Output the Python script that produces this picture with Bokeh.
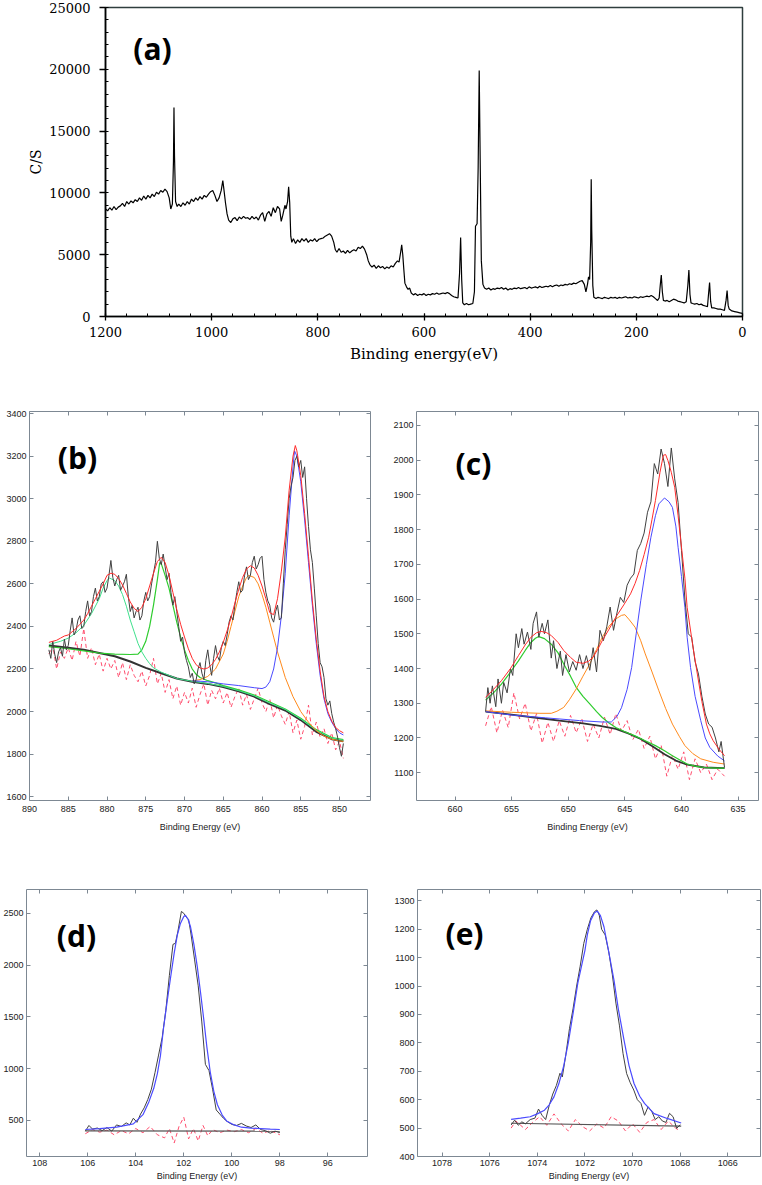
from bokeh.plotting import figure
from bokeh.models import Range1d, FixedTicker, SingleIntervalTicker, LinearAxis, Label
from bokeh.layouts import column, row
from bokeh.embed import file_html
from bokeh.resources import INLINE
import math

# ---------------- DATA ----------------
# (a) survey spectrum: (binding energy eV, counts/s)
A_SURVEY = [(1200,8700),(1196,8550),(1192,8800),(1188,8600),(1184,8900),(1180,8650),(1176,8850),(1172,8950),(1168,9150),(1164,8900),(1160,9300),(1156,9100),(1152,9350),(1148,9200),(1144,9450),(1140,9300),(1136,9600),(1132,9400),(1128,9750),(1124,9500),(1120,9800),(1116,9600),(1112,9900),(1108,9700),(1104,10050),(1100,9900),(1096,10200),(1092,10050),(1088,10300),(1084,10100),(1080,9600),(1077,8700),(1074,9100),(1072,12500),(1071,16900),(1070,13000),(1068,9300),(1065,8900),(1062,9100),(1058,8900),(1054,9200),(1050,9000),(1046,9300),(1042,9100),(1038,9500),(1034,9300),(1030,9600),(1026,9400),(1022,9700),(1018,9500),(1014,9800),(1010,9650),(1006,9900),(1002,10100),(998,10200),(994,9800),(990,9300),(986,9600),(982,10200),(979,11000),(977,10300),(974,9200),(971,8300),(968,7800),(964,7600),(960,7900),(956,8000),(952,7750),(948,8050),(944,7900),(940,8100),(936,7950),(932,8000),(928,7850),(924,8100),(920,7900),(916,8050),(912,7800),(908,8200),(904,8400),(900,7700),(896,8300),(892,8500),(888,8100),(884,8800),(880,8400),(876,8900),(872,8700),(869,7700),(866,8200),(862,9000),(860,8700),(857,9300),(855,10500),(853,9200),(851,6500),(849,6000),(846,6300),(842,5900),(838,6200),(834,6000),(830,6300),(826,6100),(822,6300),(818,6000),(814,6200),(810,6100),(806,6300),(802,6050),(798,6250),(794,6300),(790,6350),(786,6500),(782,6600),(778,6700),(774,6500),(770,6000),(767,5400),(764,5200),(760,5500),(756,5200),(752,5300),(748,5100),(744,5350),(740,5150),(736,5300),(732,5400),(728,5300),(724,5600),(720,5500),(716,5700),(712,5450),(708,5000),(705,4500),(702,4200),(698,4000),(694,4150),(690,3900),(686,4100),(682,3950),(678,4050),(674,3850),(670,4000),(666,3900),(662,4100),(658,4000),(654,4300),(650,4500),(647,4400),(644,5200),(642,5800),(640,5000),(638,3800),(636,2700),(633,2400),(630,2200),(627,2300),(624,1900),(620,1750),(616,1850),(612,1700),(608,1800),(604,1750),(600,1850),(596,1700),(592,1800),(588,1750),(584,1850),(580,1800),(576,1900),(572,1800),(568,1850),(564,1900),(560,1850),(556,1950),(552,1850),(548,1700),(544,1600),(540,1550),(536,1500),(533,3500),(531,6400),(529,3000),(527,1100),(524,950),(520,1050),(516,950),(512,1000),(508,1050),(505,2000),(503,7300),(500,7500),(498,12000),(496,19900),(494,12000),(492,4500),(489,2600),(486,2300),(482,2200),(478,2300),(474,2150),(470,2250),(466,2200),(462,2300),(458,2250),(454,2350),(450,2200),(446,2300),(442,2150),(438,2250),(434,2200),(430,2300),(426,2250),(422,2350),(418,2250),(414,2300),(410,2350),(406,2250),(402,2400),(398,2300),(394,2350),(390,2400),(386,2300),(382,2450),(378,2350),(374,2400),(370,2450),(366,2400),(362,2500),(358,2400),(354,2500),(350,2550),(346,2450),(342,2550),(338,2500),(334,2600),(330,2550),(326,2650),(322,2600),(318,2700),(314,2650),(310,2750),(306,2850),(302,2900),(298,2600),(295,2000),(292,2600),(290,3200),(288,3000),(286,6000),(285,11100),(284,7000),(282,2500),(280,1550),(276,1450),(272,1550),(268,1500),(264,1450),(260,1550),(256,1500),(252,1450),(248,1550),(244,1500),(240,1550),(236,1450),(232,1550),(228,1500),(224,1550),(220,1600),(216,1500),(212,1550),(208,1500),(204,1600),(200,1550),(196,1500),(192,1600),(188,1550),(184,1600),(180,1650),(176,1600),(172,1700),(168,1600),(164,1450),(160,1300),(157,1500),(155,2500),(153,3350),(151,2000),(149,1300),(146,1250),(142,1300),(138,1200),(134,1300),(130,1400),(126,1350),(122,1250),(118,1200),(114,1150),(110,1100),(106,1200),(103,2500),(101,3750),(99,1800),(97,1100),(94,1050),(90,1000),(86,1050),(82,950),(78,1000),(74,900),(70,850),(66,800),(64,1800),(62,2750),(60,1200),(58,700),(54,700),(50,650),(46,600),(42,600),(38,550),(34,500),(31,1300),(29,2100),(27,900),(25,600),(20,450),(15,400),(10,350),(5,300),(0,250)]
A_XTICK_STEP = 200
A_YTICK_STEP = 5000

# (b) Ni 2p region
B_RAW = [(887.5,2290),(887.25,2250),(887.0,2330),(886.75,2270),(886.5,2230),(886.25,2280),(886.0,2300),(885.75,2260),(885.5,2340),(885.25,2290),(885.0,2310),(884.75,2380),(884.5,2440),(884.25,2360),(884.0,2380),(883.75,2430),(883.5,2450),(883.25,2390),(883.0,2400),(882.75,2470),(882.5,2520),(882.25,2450),(882.0,2470),(881.75,2540),(881.5,2580),(881.25,2520),(881.0,2540),(880.75,2600),(880.5,2610),(880.25,2560),(880.0,2580),(879.75,2640),(879.5,2710),(879.25,2630),(879.0,2590),(878.75,2620),(878.5,2640),(878.25,2570),(878.0,2590),(877.75,2610),(877.5,2645),(877.25,2540),(877.0,2470),(876.75,2500),(876.5,2440),(876.25,2470),(876.0,2490),(875.75,2430),(875.5,2450),(875.25,2520),(875.0,2560),(874.75,2520),(874.5,2540),(874.25,2600),(874.0,2650),(873.75,2700),(873.5,2800),(873.25,2720),(873.0,2690),(872.75,2740),(872.5,2680),(872.25,2620),(872.0,2650),(871.75,2560),(871.5,2500),(871.25,2540),(871.0,2470),(870.75,2400),(870.5,2330),(870.25,2350),(870.0,2280),(869.75,2240),(869.5,2210),(869.25,2160),(869.0,2180),(868.75,2130),(868.5,2150),(868.25,2200),(868.0,2230),(867.75,2180),(867.5,2150),(867.25,2240),(867.0,2290),(866.75,2220),(866.5,2170),(866.25,2250),(866.0,2310),(865.75,2260),(865.5,2240),(865.25,2300),(865.0,2330),(864.75,2310),(864.5,2360),(864.25,2420),(864.0,2450),(863.75,2430),(863.5,2500),(863.25,2560),(863.0,2610),(862.75,2560),(862.5,2570),(862.25,2640),(862.0,2680),(861.75,2620),(861.5,2640),(861.25,2700),(861.0,2730),(860.75,2670),(860.5,2690),(860.25,2720),(860.0,2730),(859.75,2620),(859.5,2560),(859.25,2520),(859.0,2500),(858.75,2440),(858.5,2420),(858.25,2470),(858.0,2500),(857.75,2430),(857.5,2440),(857.25,2600),(857.0,2760),(856.75,2880),(856.5,3000),(856.25,3060),(856.0,3100),(855.75,3180),(855.5,3200),(855.25,3150),(855.0,3180),(854.75,3100),(854.5,3150),(854.25,3000),(854.0,2870),(853.75,2760),(853.5,2700),(853.25,2580),(853.0,2450),(852.75,2320),(852.5,2230),(852.25,2210),(852.0,2160),(851.75,2060),(851.5,2030),(851.25,2050),(851.0,1990),(850.75,1950),(850.5,1920),(850.25,1880),(850.0,1830),(849.75,1790),(849.5,1850)]
B_RESID = [(887.5,2270),(887.0,2310),(886.5,2200),(886.0,2280),(885.5,2250),(885.0,2300),(884.5,2240),(884.0,2330),(883.5,2260),(883.0,2390),(882.5,2250),(882.0,2300),(881.5,2220),(881.0,2270),(880.5,2190),(880.0,2250),(879.5,2200),(879.0,2240),(878.5,2160),(878.0,2230),(877.5,2150),(877.0,2220),(876.5,2170),(876.0,2140),(875.5,2190),(875.0,2120),(874.5,2170),(874.0,2250),(873.5,2130),(873.0,2180),(872.5,2090),(872.0,2150),(871.5,2060),(871.0,2120),(870.5,2030),(870.0,2090),(869.5,2040),(869.0,2110),(868.5,2020),(868.0,2080),(867.5,2130),(867.0,2030),(866.5,2100),(866.0,2060),(865.5,2110),(865.0,2040),(864.5,2090),(864.0,2020),(863.5,2070),(863.0,2110),(862.5,2030),(862.0,2080),(861.5,2010),(861.0,2060),(860.5,2110),(860.0,2040),(859.5,2000),(859.0,2060),(858.5,1970),(858.0,2030),(857.5,1980),(857.0,1940),(856.5,2000),(856.0,1900),(855.5,1960),(855.0,1870),(854.5,1930),(854.0,2030),(853.5,1890),(853.0,1950),(852.5,1880),(852.0,1920),(851.5,1850),(851.0,1900),(850.5,1820),(850.0,1860),(849.5,1780)]
B_ENV = [(887.5,2325),(887,2330),(886.5,2335),(886,2345),(885.5,2355),(885,2360),(884.5,2375),(884,2390),(883.5,2410),(883,2430),(882.5,2460),(882,2495),(881.5,2530),(881,2565),(880.5,2600),(880,2640),(879.5,2650),(879,2645),(878.5,2625),(878,2595),(877.5,2555),(877,2515),(876.5,2485),(876,2470),(875.5,2490),(875,2530),(874.5,2590),(874,2650),(873.5,2705),(873,2725),(872.5,2700),(872,2640),(871.5,2560),(871,2480),(870.5,2410),(870,2350),(869.5,2295),(869,2250),(868.5,2220),(868,2205),(867.5,2200),(867,2205),(866.5,2220),(866,2245),(865.5,2280),(865,2325),(864.5,2380),(864,2440),(863.5,2510),(863,2575),(862.5,2630),(862,2670),(861.5,2685),(861,2675),(860.5,2640),(860,2590),(859.5,2530),(859,2465),(858.5,2455),(858,2530),(857.5,2660),(857,2820),(856.5,3040),(856,3200),(855.7,3250),(855.5,3225),(855,3110),(854.5,2930),(854,2730),(853.5,2520),(853,2340),(852.5,2190),(852,2070),(851.5,2000),(851,1955),(850.5,1925),(850,1910),(849.5,1900)]
B_BG = [(887.5,2310),(885,2300),(883,2290),(881,2275),(879,2260),(877,2235),(875,2205),(873,2180),(871,2155),(869,2140),(867,2130),(865,2115),(863,2095),(861,2070),(859,2035),(857,2005),(855,1960),(853,1905),(851,1870),(849.5,1860)]
B_G1 = [(887.5,2315),(887,2320),(886,2330),(885,2345),(884,2370),(883,2405),(882,2460),(881,2530),(880.5,2580),(880,2615),(879.7,2628),(879,2615),(878.5,2590),(878,2550),(877.5,2495),(877,2430),(876.5,2375),(876,2320),(875.5,2280),(875,2250),(874.5,2225),(874,2205),(873,2185),(872,2170),(871,2155),(869,2142),(867,2132),(865,2118),(863,2098),(861,2074),(859,2040),(857,2010),(855,1965),(853,1912),(851,1875),(849.5,1865)]
B_G2 = [(887.5,2305),(885,2295),(883,2285),(881,2275),(879,2270),(877,2268),(876,2270),(875.5,2290),(875,2330),(874.5,2400),(874,2500),(873.5,2620),(873.2,2700),(873,2695),(872.5,2640),(872,2580),(871.5,2500),(871,2420),(870.5,2350),(870,2290),(869.5,2240),(869,2200),(868.5,2175),(868,2160),(867,2145),(866,2135),(865,2122),(863,2102),(861,2078),(859,2045),(857,2012),(855,1968),(853,1915),(851,1878),(849.5,1868)]
B_OR = [(869,2145),(868,2150),(867,2165),(866,2200),(865,2270),(864.5,2330),(864,2400),(863.5,2470),(863,2540),(862.5,2590),(862,2630),(861.7,2640),(861,2630),(860.5,2600),(860,2550),(859.5,2490),(859,2420),(858.5,2350),(858,2280),(857,2160),(856,2070),(855,2000),(854,1950),(853,1910),(852,1885),(851,1870),(850,1862),(849.5,1860)]
B_BL = [(869,2145),(867,2140),(865,2130),(863,2122),(861,2112),(860,2108),(859.5,2115),(859,2140),(858.5,2200),(858,2300),(857.5,2450),(857,2650),(856.5,2920),(856,3150),(855.8,3225),(855.5,3200),(855,3080),(854.5,2900),(854,2700),(853.5,2500),(853,2320),(852.5,2170),(852,2060),(851.5,1990),(851,1950),(850.5,1920),(850,1900),(849.5,1890)]
B_XTICKS = [890, 885, 880, 875, 870, 865, 860, 855, 850]
B_YTICKS = [1600, 1800, 2000, 2200, 2400, 2600, 2800, 3000, 3200, 3400]

# (c) Fe 2p region
C_RAW = [(657.3,1276),(657.1,1345),(656.9,1300),(656.7,1350),(656.4,1290),(656.2,1370),(655.9,1300),(655.7,1360),(655.4,1330),(655.1,1400),(654.9,1380),(654.6,1500),(654.4,1460),(654.1,1515),(653.9,1470),(653.6,1505),(653.3,1455),(653.1,1530),(652.8,1563),(652.6,1490),(652.3,1530),(652.1,1500),(651.8,1540),(651.5,1430),(651.3,1480),(651.0,1400),(650.7,1450),(650.5,1380),(650.2,1440),(649.9,1390),(649.6,1420),(649.3,1395),(649.0,1440),(648.7,1400),(648.4,1437),(648.1,1395),(647.8,1460),(647.5,1390),(647.2,1510),(646.9,1480),(646.6,1520),(646.3,1577),(646.0,1510),(645.7,1560),(645.4,1605),(645.1,1590),(644.8,1640),(644.5,1660),(644.2,1672),(643.9,1740),(643.6,1760),(643.3,1790),(643.0,1850),(642.7,1880),(642.4,1990),(642.1,1960),(641.8,2032),(641.5,1990),(641.2,1924),(640.9,2035),(640.6,1946),(640.3,1878),(640.0,1740),(639.7,1600),(639.4,1500),(639.1,1490),(638.8,1420),(638.5,1384),(638.2,1320),(637.9,1269),(637.6,1240),(637.3,1231),(637.0,1200),(636.7,1160),(636.5,1190),(636.2,1115)]
C_RESID = [(657.3,1235),(656.8,1290),(656.3,1215),(655.8,1280),(655.3,1230),(654.8,1330),(654.3,1255),(653.8,1300),(653.3,1220),(652.8,1270),(652.3,1185),(651.8,1245),(651.3,1190),(650.8,1250),(650.3,1205),(649.8,1265),(649.3,1215),(648.8,1255),(648.3,1190),(647.8,1240),(647.3,1200),(646.8,1260),(646.3,1210),(645.8,1270),(645.3,1220),(644.8,1250),(644.3,1195),(643.8,1225),(643.3,1170),(642.8,1205),(642.3,1140),(641.8,1180),(641.3,1090),(640.8,1150),(640.3,1110),(639.8,1160),(639.3,1080),(638.8,1140),(638.3,1100),(637.8,1125),(637.3,1080),(636.8,1110),(636.2,1090)]
C_ENV = [(657.3,1317),(656.6,1340),(655.9,1365),(655.1,1400),(654.4,1437),(653.8,1468),(653.3,1490),(652.8,1503),(652.4,1507),(651.9,1503),(651.5,1495),(650.9,1475),(650.4,1452),(649.8,1432),(649.3,1418),(648.7,1415),(648.2,1421),(647.8,1433),(647.4,1455),(647.0,1480),(646.4,1513),(645.8,1548),(645.1,1583),(644.5,1615),(644.1,1645),(643.7,1682),(643.3,1728),(642.9,1778),(642.6,1830),(642.3,1884),(641.9,1965),(641.6,2014),(641.4,2016),(641.2,1999),(640.9,1965),(640.6,1922),(640.3,1840),(640.0,1749),(639.7,1660),(639.5,1576),(639.0,1465),(638.6,1384),(638.2,1305),(637.8,1240),(637.5,1212),(637.2,1192),(636.7,1168),(636.2,1149)]
C_BG = [(657.3,1276),(655.2,1268),(653.0,1259),(650.8,1250),(648.7,1242),(647.2,1235),(645.8,1226),(644.7,1213),(643.6,1197),(642.5,1175),(641.5,1153),(640.5,1135),(639.5,1123),(638.0,1115),(636.2,1113)]
C_GR = [(657.3,1309),(656.6,1330),(655.9,1355),(655.1,1390),(654.4,1422),(653.8,1452),(653.3,1475),(652.9,1487),(652.6,1492),(652.1,1486),(651.5,1470),(650.9,1445),(650.4,1413),(649.8,1378),(649.3,1346),(648.7,1320),(648.1,1298),(647.5,1276),(647.0,1259),(646.4,1243),(645.8,1230),(645.0,1218),(644.1,1206),(643.2,1192),(642.3,1178),(641.5,1163),(640.8,1149),(640.1,1136),(639.5,1125),(638.8,1119),(638.0,1115),(637.0,1113),(636.2,1113)]
C_OR = [(657.3,1278),(655.0,1274),(652.5,1271),(651.5,1271),(651.0,1277),(650.4,1288),(649.9,1310),(649.3,1341),(648.7,1378),(648.1,1413),(647.5,1455),(647.0,1490),(646.4,1522),(645.8,1543),(645.3,1553),(645.0,1555),(644.6,1540),(644.1,1519),(643.6,1480),(643.2,1442),(642.6,1390),(642.0,1336),(641.4,1285),(640.8,1240),(640.2,1205),(639.7,1178),(639.0,1155),(638.3,1140),(637.2,1130),(636.2,1125)]
C_BL = [(657.3,1276),(655.0,1266),(652.0,1258),(649.0,1250),(647.0,1246),(646.2,1246),(645.7,1262),(645.3,1287),(644.8,1340),(644.4,1403),(644.0,1500),(643.6,1595),(643.1,1700),(642.7,1778),(642.3,1840),(642.0,1874),(641.5,1891),(641.1,1880),(640.8,1864),(640.5,1810),(640.3,1749),(640.0,1665),(639.7,1576),(639.5,1490),(639.2,1403),(638.8,1320),(638.3,1250),(637.9,1200),(637.5,1173),(636.8,1148),(636.2,1134)]
C_XTICKS = [660, 655, 650, 645, 640, 635]
C_YTICKS = [1100, 1200, 1300, 1400, 1500, 1600, 1700, 1800, 1900, 2000, 2100]

# (d) Si 2p region
D_RAW = [(106.1,395),(105.95,450),(105.8,415),(105.6,425),(105.4,400),(105.2,430),(105.0,395),(104.8,455),(104.6,440),(104.4,475),(104.25,455),(104.1,520),(103.95,480),(103.8,560),(103.65,620),(103.5,700),(103.35,800),(103.2,960),(103.05,1130),(102.9,1300),(102.75,1560),(102.6,1900),(102.45,2200),(102.35,2210),(102.25,2320),(102.1,2518),(102.0,2500),(101.9,2465),(101.8,2440),(101.7,2300),(101.55,2050),(101.4,1800),(101.25,1450),(101.1,1040),(100.95,980),(100.8,800),(100.65,600),(100.5,560),(100.35,520),(100.2,490),(100.0,460),(99.8,450),(99.6,470),(99.4,445),(99.2,430),(99.0,455),(98.8,410),(98.6,400),(98.4,375),(98.2,395),(98.0,380)]
D_FIT = [(106.1,411),(105.5,420),(104.8,433),(104.1,465),(103.7,554),(103.45,680),(103.25,809),(103.1,950),(102.97,1128),(102.85,1380),(102.7,1637),(102.55,1880),(102.4,2115),(102.27,2290),(102.14,2402),(102.0,2470),(101.93,2480),(101.82,2440),(101.72,2370),(101.58,2200),(101.44,1988),(101.3,1730),(101.17,1478),(101.04,1210),(100.9,969),(100.75,780),(100.6,650),(100.4,550),(100.2,490),(99.9,455),(99.6,433),(99.2,425),(98.8,420),(98.4,415),(98.0,411)]
D_BG = [(106.1,397),(98.0,395)]
D_RESID = [(106.1,370),(105.8,410),(105.5,385),(105.2,405),(104.9,360),(104.6,400),(104.3,370),(104.0,420),(103.7,380),(103.4,440),(103.1,360),(102.8,330),(102.6,420),(102.4,280),(102.2,440),(102.0,530),(101.8,320),(101.6,420),(101.4,300),(101.2,450),(101.0,350),(100.8,410),(100.5,380),(100.2,405),(99.9,390),(99.6,410),(99.3,380),(99.0,420),(98.7,375),(98.4,400),(98.0,360)]
D_XTICKS = [108, 106, 104, 102, 100, 98, 96]
D_YTICKS = [500, 1000, 1500, 2000, 2500]

# (e) Na 1s region
E_RAW = [(1075.1,511),(1074.95,528),(1074.8,510),(1074.65,522),(1074.5,515),(1074.3,530),(1074.1,535),(1073.95,567),(1073.8,545),(1073.65,530),(1073.5,580),(1073.35,620),(1073.2,650),(1073.05,693),(1072.95,680),(1072.8,760),(1072.65,850),(1072.5,920),(1072.35,1000),(1072.2,1070),(1072.05,1150),(1071.9,1200),(1071.75,1240),(1071.6,1262),(1071.5,1268),(1071.4,1250),(1071.3,1200),(1071.15,1180),(1071.0,1120),(1070.85,1040),(1070.7,940),(1070.55,860),(1070.4,762),(1070.25,692),(1070.1,660),(1069.95,634),(1069.8,600),(1069.65,587),(1069.5,545),(1069.35,575),(1069.2,560),(1069.05,530),(1068.9,540),(1068.75,525),(1068.6,520),(1068.45,552),(1068.3,540),(1068.15,499),(1068.0,512)]
E_FIT = [(1075.1,531),(1074.7,535),(1074.3,540),(1074.0,550),(1073.7,563),(1073.5,582),(1073.3,610),(1073.1,655),(1072.9,716),(1072.7,800),(1072.5,903),(1072.3,1010),(1072.0,1126),(1071.9,1180),(1071.76,1231),(1071.6,1258),(1071.48,1264),(1071.35,1248),(1071.2,1208),(1071.0,1120),(1070.78,1020),(1070.6,920),(1070.36,810),(1070.15,720),(1069.94,657),(1069.7,612),(1069.5,587),(1069.1,551),(1068.55,534),(1067.96,518)]
E_BG = [(1075.1,517),(1067.96,507)]
E_RESID = [(1075.1,500),(1074.9,525),(1074.7,510),(1074.5,495),(1074.2,520),(1073.9,540),(1073.6,510),(1073.3,550),(1073.0,515),(1072.7,490),(1072.4,530),(1072.1,505),(1071.8,490),(1071.5,515),(1071.2,500),(1070.9,540),(1070.6,525),(1070.3,490),(1070.0,515),(1069.7,485),(1069.4,520),(1069.1,530),(1068.8,495),(1068.5,525),(1068.2,500),(1068.0,490)]
E_XTICKS = [1078, 1076, 1074, 1072, 1070, 1068, 1066]
E_YTICKS = [400, 500, 600, 700, 800, 900, 1000, 1100, 1200, 1300]

# ---------------- STYLE ----------------
RAW_C = "#404040"
ENV_C = "#ff2b2b"
BLUE_C = "#4a4aff"
ORANGE_C = "#ff8a1c"
GREEN_C = "#2ecc2e"
MINT_C = "#3fe08c"
RESID_C = "#ff4d6d"
BG_C = "#333333"
AX_C = "#7d8893"
SANS = "Liberation Sans"
PANEL_FONT = "Open Sans"


def xy(pairs):
    return [p[0] for p in pairs], [p[1] for p in pairs]


def style_axis(ax, ticks, show_labels):
    ax.ticker = FixedTicker(ticks=ticks)
    ax.axis_line_color = AX_C
    ax.axis_line_width = 1
    ax.major_tick_line_color = AX_C
    ax.major_tick_in = 4
    ax.major_tick_out = 0
    ax.minor_tick_line_color = None
    if show_labels:
        ax.major_label_text_font = SANS
        ax.major_label_text_font_size = "9px"
        ax.major_label_text_color = "#222222"
        ax.major_label_standoff = 3
    else:
        # mirrored axis (ticks only): labels not drawn
        ax.major_label_text_font_size = "1px"
        ax.major_label_text_color = None
        ax.major_label_text_alpha = 0
        ax.major_label_standoff = 0


def matlab_panel(w, h, bl, br, bt, bb, xr, yr, xt, yt, xstand, xlab_stand):
    p = figure(width=w, height=h, x_range=Range1d(*xr), y_range=Range1d(*yr),
               output_backend="svg", toolbar_location=None,
               min_border_left=bl, min_border_right=br,
               min_border_top=bt, min_border_bottom=bb)
    p.grid.visible = False
    p.outline_line_color = None
    p.background_fill_color = "white"
    p.border_fill_color = "white"
    style_axis(p.xaxis[0], xt, True)
    style_axis(p.yaxis[0], yt, True)
    p.xaxis[0].major_label_standoff = xstand
    p.xaxis[0].axis_label = "Binding Energy (eV)"
    p.xaxis[0].axis_label_text_font = SANS
    p.xaxis[0].axis_label_text_font_size = "9px"
    p.xaxis[0].axis_label_text_font_style = "normal"
    p.xaxis[0].axis_label_text_color = "#222222"
    p.xaxis[0].axis_label_standoff = xlab_stand
    top = LinearAxis()
    style_axis(top, xt, False)
    p.add_layout(top, "above")
    right = LinearAxis()
    style_axis(right, yt, False)
    p.add_layout(right, "right")
    return p


def add_tag(p, text, x, y):
    p.add_layout(Label(x=x, y=y, x_units="screen", y_units="screen", text=text,
                       text_font=PANEL_FONT, text_font_style="bold",
                       text_font_size="30px", text_align="center",
                       text_baseline="middle", text_color="black"))


def add_ylab(p, text, x, y):
    p.add_layout(Label(x=x, y=y, x_units="screen", y_units="screen", text=text,
                       angle=math.pi / 2, text_font=SANS, text_font_size="9px",
                       text_align="center", text_baseline="middle",
                       text_color="#222222"))


# ---------------- PANEL (a) ----------------
pa = figure(width=762, height=385, x_range=Range1d(1200, 0), y_range=Range1d(0, 25000),
            output_backend="svg", toolbar_location=None,
            min_border_left=105, min_border_right=20, min_border_top=7, min_border_bottom=69)
pa.grid.visible = False
pa.outline_line_color = "#2f3d3d"
pa.outline_line_width = 1.5
ax_x, ay_y = xy(A_SURVEY)
pa.line(ax_x, ay_y, color="black", line_width=1.2)
xa = pa.xaxis[0]
xa.ticker = SingleIntervalTicker(interval=A_XTICK_STEP, num_minor_ticks=5)
xa.axis_line_width = 1.6
xa.axis_line_color = "black"
xa.major_tick_in = 3
xa.major_tick_out = 4
xa.minor_tick_in = 3
xa.minor_tick_out = 0
xa.major_tick_line_width = 1.3
xa.major_label_text_font = "DejaVu Serif"
xa.major_label_text_font_size = "13px"
xa.major_label_text_color = "black"
xa.major_label_standoff = 6
xa.axis_label = "Binding energy(eV)"
xa.axis_label_text_font = "DejaVu Serif"
xa.axis_label_text_font_size = "15px"
xa.axis_label_text_font_style = "normal"
xa.axis_label_text_color = "black"
xa.axis_label_standoff = 5
ya = pa.yaxis[0]
ya.ticker = SingleIntervalTicker(interval=A_YTICK_STEP, num_minor_ticks=5)
ya.axis_line_width = 1.6
ya.axis_line_color = "black"
ya.major_tick_in = 0
ya.major_tick_out = 6
ya.minor_tick_in = 3
ya.minor_tick_out = 0
ya.major_tick_line_width = 1.3
ya.major_label_text_font = "DejaVu Serif"
ya.major_label_text_font_size = "13px"
ya.major_label_text_color = "black"
ya.major_label_standoff = 9
ya.axis_label = "C/S"
ya.axis_label_text_font = "DejaVu Serif"
ya.axis_label_text_font_size = "14px"
ya.axis_label_text_font_style = "normal"
ya.axis_label_text_color = "black"
ya.axis_label_standoff = 2
add_tag(pa, "(a)", 47, 268)

# ---------------- PANEL (b) ----------------
pb = matlab_panel(390, 453, 29, 20, 24, 37, (890, 846), (1582, 3410),
                  B_XTICKS, B_YTICKS, 5, 7)
for pairs, col, lw, dash in [(B_RESID, RESID_C, 1, "4 3"), (B_BG, BG_C, 2, "solid"),
                             (B_G2, GREEN_C, 1.2, "solid"), (B_G1, MINT_C, 1, "solid"),
                             (B_OR, ORANGE_C, 1, "solid"), (B_BL, BLUE_C, 1, "solid"),
                             (B_RAW, RAW_C, 1, "solid"), (B_ENV, ENV_C, 1, "solid")]:
    xs, ys = xy(pairs)
    pb.line(xs, ys, color=col, line_width=lw, line_dash=dash)
add_tag(pb, "(b)", 48, 343)
add_ylab(pb, "c / s", -19, 211)

# ---------------- PANEL (c) ----------------
pc = matlab_panel(372, 453, 20, 4, 26, 38, (663.4, 633.2), (1020, 2140),
                  C_XTICKS, C_YTICKS, 5, 7)
for pairs, col, lw, dash in [(C_RESID, RESID_C, 1, "4 3"), (C_BG, BG_C, 1.8, "solid"),
                             (C_GR, GREEN_C, 1.2, "solid"), (C_OR, ORANGE_C, 1, "solid"),
                             (C_BL, BLUE_C, 1, "solid"), (C_RAW, RAW_C, 1, "solid"),
                             (C_ENV, ENV_C, 1, "solid")]:
    xs, ys = xy(pairs)
    pc.line(xs, ys, color=col, line_width=lw, line_dash=dash)
add_tag(pc, "(c)", 57, 337)
add_ylab(pc, "c / s", -17, 198)

# ---------------- PANEL (d) ----------------
pd_ = matlab_panel(390, 347, 26, 23, 48, 29, (108.55, 94.35), (150, 2730),
                   D_XTICKS, D_YTICKS, 3, 2)
for pairs, col, lw, dash in [(D_RESID, RESID_C, 1, "4 3"), (D_BG, "#555555", 1.2, "solid"),
                             (D_RAW, RAW_C, 1, "solid"), (D_FIT, BLUE_C, 1.2, "solid")]:
    xs, ys = xy(pairs)
    pd_.line(xs, ys, color=col, line_width=lw, line_dash=dash)
add_tag(pd_, "(d)", 50, 221)
add_ylab(pd_, "c/s", -19, 134)

# ---------------- PANEL (e) ----------------
pe = matlab_panel(372, 347, 27, 2, 51, 28, (1079.03, 1064.63), (400, 1340),
                  E_XTICKS, E_YTICKS, 3, 2)
for pairs, col, lw, dash in [(E_RESID, RESID_C, 1, "4 3"), (E_BG, "#555555", 1.2, "solid"),
                             (E_RAW, RAW_C, 1, "solid"), (E_FIT, BLUE_C, 1.2, "solid")]:
    xs, ys = xy(pairs)
    pe.line(xs, ys, color=col, line_width=lw, line_dash=dash)
add_tag(pe, "(e)", 47, 223)
add_ylab(pe, "c/s", -24, 135)

layout = column(pa, row(pb, pc), row(pd_, pe))
open("out.html", "w").write(file_html(layout, INLINE))
